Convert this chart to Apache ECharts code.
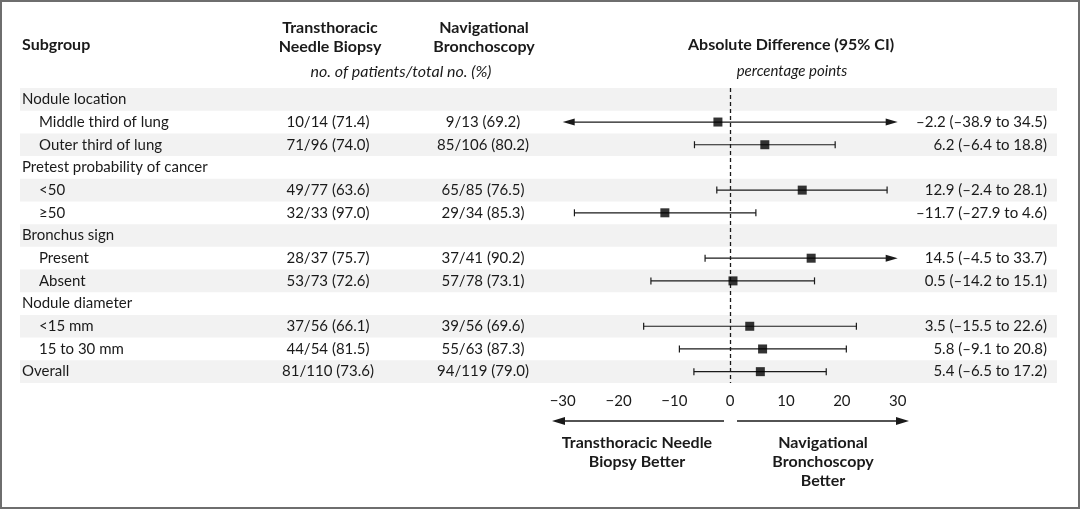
<!DOCTYPE html>
<html>
<head>
<meta charset="utf-8">
<script src="https://cdn.jsdelivr.net/npm/echarts@6/dist/echarts.min.js"></script>
<style>
  html, body { margin: 0; padding: 0; background: #fff; }
  #main { width: 1080px; height: 509px; }
</style>
</head>
<body>
<div id="main"></div>
<script>
// rows of the table, top to bottom
var subgroups = ['Nodule location', 'Middle third of lung', 'Outer third of lung',
  'Pretest probability of cancer', '<50', '\u226550', 'Bronchus sign', 'Present', 'Absent',
  'Nodule diameter', '<15 mm', '15 to 30 mm', 'Overall'];
var indent = [0, 1, 1, 0, 1, 1, 0, 1, 1, 0, 1, 1, 0];
var needleBiopsy = ['', '10/14 (71.4)', '71/96 (74.0)', '', '49/77 (63.6)', '32/33 (97.0)', '',
  '28/37 (75.7)', '53/73 (72.6)', '', '37/56 (66.1)', '44/54 (81.5)', '81/110 (73.6)'];
var bronchoscopy = ['', '9/13 (69.2)', '85/106 (80.2)', '', '65/85 (76.5)', '29/34 (85.3)', '',
  '37/41 (90.2)', '57/78 (73.1)', '', '39/56 (69.6)', '55/63 (87.3)', '94/119 (79.0)'];
var diff  = [null, -2.2, 6.2, null, 12.9, -11.7, null, 14.5, 0.5, null, 3.5, 5.8, 5.4];
var ciLow = [null, -38.9, -6.4, null, -2.4, -27.9, null, -4.5, -14.2, null, -15.5, -9.1, -6.5];
var ciHigh = [null, 34.5, 18.8, null, 28.1, 4.6, null, 33.7, 15.1, null, 22.6, 20.8, 17.2];

var FONT = 'Lato';
var INK = '#1a1a1a';

function dash(v) {
  return v < 0 ? '\u2013' + Math.abs(v).toFixed(1) : v.toFixed(1);
}
function ciText(i) {
  if (diff[i] === null) return '';
  return dash(diff[i]) + ' (' + dash(ciLow[i]) + ' to ' + dash(ciHigh[i]) + ')';
}

var rowIdx = subgroups.map(function (s, i) { return [0, i]; });
var ciData = [];
var pointData = [];
subgroups.forEach(function (s, i) {
  if (diff[i] !== null) {
    ciData.push([ciLow[i], i, ciHigh[i]]);
    pointData.push([diff[i], i]);
  }
});

var myChart = echarts.init(document.getElementById('main'));

option = {
  animation: false,
  backgroundColor: '#fff',
  textStyle: { fontFamily: FONT },
  grid: { left: 562.7, right: 182.3, top: 88, bottom: 126 },
  xAxis: {
    type: 'value',
    min: -30, max: 30, interval: 10,
    offset: 2,
    axisLine: { lineStyle: { color: INK, width: 1.3 } },
    axisTick: { length: 6, lineStyle: { color: INK, width: 1.3 } },
    splitLine: { show: false },
    axisLabel: {
      color: INK, fontSize: 15, fontFamily: FONT, margin: 9,
      formatter: function (v) { return v < 0 ? '\u2212' + Math.abs(v) : String(v); }
    }
  },
  yAxis: {
    type: 'category',
    data: subgroups,
    inverse: true,
    show: false
  },
  graphic: [
    // frame
    { type: 'rect', shape: { x: 1, y: 1, width: 1078, height: 507 },
      style: { fill: 'none', stroke: '#6e6e6e', lineWidth: 2 }, z: 100 },
    // header
    { type: 'text', left: 22, top: 37, style: { text: 'Subgroup', font: 'bold 16px ' + FONT, fill: INK } },
    { type: 'text', x: 330, y: 18, style: { text: 'Transthoracic\nNeedle Biopsy', font: 'bold 16px ' + FONT, fill: INK, textAlign: 'center', lineHeight: 19 } },
    { type: 'text', x: 484, y: 18, style: { text: 'Navigational\nBronchoscopy', font: 'bold 16px ' + FONT, fill: INK, textAlign: 'center', lineHeight: 19 } },
    { type: 'text', x: 401, y: 64, style: { text: 'no. of patients/total no. (%)', font: 'italic 16px ' + FONT, fill: INK, textAlign: 'center' } },
    { type: 'text', x: 791, y: 37, style: { text: 'Absolute Difference (95% CI)', font: 'bold 16px ' + FONT, fill: INK, textAlign: 'center' } },
    { type: 'text', x: 792, y: 64, style: { text: 'percentage points', font: 'italic 15px ' + FONT, fill: INK, textAlign: 'center' } },
    // favours arrows
    { type: 'line', shape: { x1: 562, y1: 421, x2: 724, y2: 421 }, style: { stroke: INK, lineWidth: 1.3 } },
    { type: 'polygon', shape: { points: [[552, 421], [565, 417], [565, 425]] }, style: { fill: INK } },
    { type: 'line', shape: { x1: 737, y1: 421, x2: 898, y2: 421 }, style: { stroke: INK, lineWidth: 1.3 } },
    { type: 'polygon', shape: { points: [[909, 421], [896, 417], [896, 425]] }, style: { fill: INK } },
    { type: 'text', x: 637, y: 433, style: { text: 'Transthoracic Needle\nBiopsy Better', font: 'bold 16px ' + FONT, fill: INK, textAlign: 'center', lineHeight: 19 } },
    { type: 'text', x: 823, y: 433, style: { text: 'Navigational\nBronchoscopy\nBetter', font: 'bold 16px ' + FONT, fill: INK, textAlign: 'center', lineHeight: 19 } }
  ],
  series: [
    {
      // alternating row shading across the whole table
      type: 'custom',
      z: 0,
      silent: true,
      clip: false,
      data: rowIdx,
      renderItem: function (params, api) {
        var i = api.value(1);
        if (i % 2 !== 0) return;
        var y = api.coord([0, i])[1];
        var h = api.size([0, 1])[1];
        return {
          type: 'rect',
          shape: { x: 20, y: y - h / 2, width: 1037, height: h },
          style: { fill: '#f2f2f2' }
        };
      }
    },
    {
      // table text columns
      type: 'custom',
      z: 3,
      silent: true,
      clip: false,
      data: rowIdx,
      renderItem: function (params, api) {
        var i = api.value(1);
        var y = api.coord([0, i])[1];
        var base = { font: '15px ' + FONT, fill: INK, textVerticalAlign: 'middle' };
        return {
          type: 'group',
          children: [
            { type: 'text', style: echarts.util.extend({ text: subgroups[i], x: indent[i] ? 39 : 22, y: y, textAlign: 'left' }, base) },
            { type: 'text', style: echarts.util.extend({ text: needleBiopsy[i], x: 328, y: y, textAlign: 'center' }, base) },
            { type: 'text', style: echarts.util.extend({ text: bronchoscopy[i], x: 483, y: y, textAlign: 'center' }, base) },
            { type: 'text', style: echarts.util.extend({ text: ciText(i), x: 1047, y: y, textAlign: 'right' }, base) }
          ]
        };
      }
    },
    {
      // confidence intervals, arrows where they run past the axis
      type: 'custom',
      z: 4,
      silent: true,
      data: ciData,
      clip: false,
      renderItem: function (params, api) {
        var lo = api.value(0), i = api.value(1), hi = api.value(2);
        var a = api.coord([Math.max(lo, -30), i]);
        var b = api.coord([Math.min(hi, 30), i]);
        var y = a[1];
        var kids = [];
        var x1 = a[0], x2 = b[0];
        if (lo < -30) {
          kids.push({ type: 'polygon', shape: { points: [[x1, y], [x1 + 12, y - 3.5], [x1 + 12, y + 3.5]] }, style: { fill: INK } });
          x1 += 10;
        } else {
          kids.push({ type: 'line', shape: { x1: x1, y1: y - 3.5, x2: x1, y2: y + 3.5 }, style: { stroke: INK, lineWidth: 1.2 } });
        }
        if (hi > 30) {
          kids.push({ type: 'polygon', shape: { points: [[x2, y], [x2 - 12, y - 3.5], [x2 - 12, y + 3.5]] }, style: { fill: INK } });
          x2 -= 10;
        } else {
          kids.push({ type: 'line', shape: { x1: x2, y1: y - 3.5, x2: x2, y2: y + 3.5 }, style: { stroke: INK, lineWidth: 1.2 } });
        }
        kids.push({ type: 'line', shape: { x1: x1, y1: y, x2: x2, y2: y }, style: { stroke: INK, lineWidth: 1.2 } });
        return { type: 'group', children: kids };
      }
    },
    {
      type: 'scatter',
      z: 5,
      silent: true,
      symbol: 'rect',
      symbolSize: 9,
      itemStyle: { color: '#000' },
      data: pointData,
      markLine: {
        silent: true,
        symbol: 'none',
        label: { show: false },
        lineStyle: { color: INK, type: [4, 3], width: 1.3 },
        data: [{ xAxis: 0 }]
      }
    }
  ]
};

myChart.setOption(option);
</script>
</body>
</html>
